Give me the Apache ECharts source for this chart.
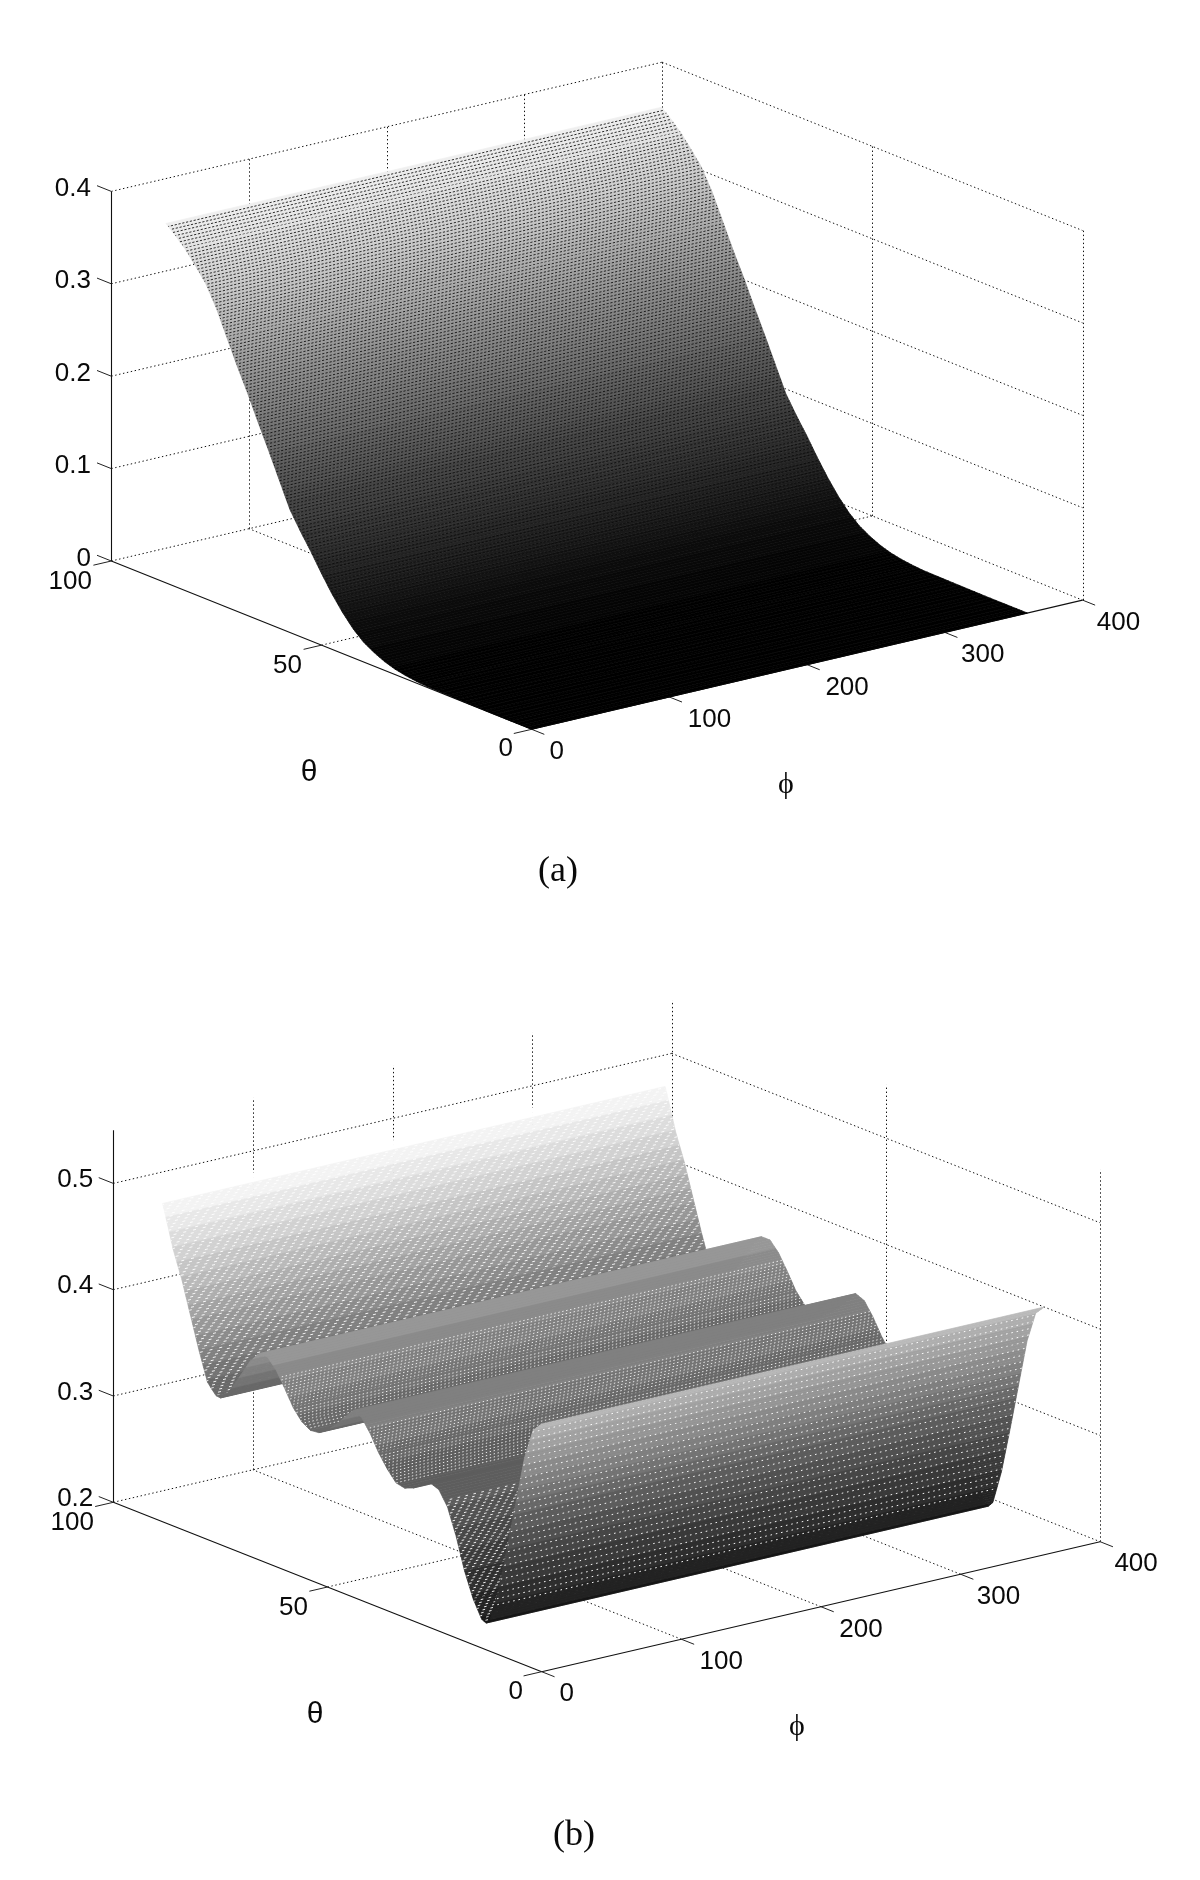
<!DOCTYPE html>
<html>
<head>
<meta charset="utf-8">
<script src="https://cdn.jsdelivr.net/npm/echarts@6/dist/echarts.min.js"></script>
<style>html,body{margin:0;padding:0;background:#fff}#c{width:1200px;height:1880px}</style>
</head>
<body>
<div id="c"></div>
<script>
// ---- values ----
const thetaA = [0,5,10,15,20,25,27.5,30,32.5,35,37.5,40,42.5,45,47.5,50,52.5,55,57.5,60,62.5,65,67.5,70,72.5,75,77.5,80,82.5,85,87];
const surfaceA = [0,0,0,0.0003,0.0006,0.001,0.002,0.0035,0.0058,0.0095,0.0148,0.0215,0.0315,0.0445,0.06,0.0775,0.0965,0.114,0.133,0.16,0.187,0.213,0.24,0.265,0.292,0.319,0.341,0.356,0.37,0.381,0.389];
const thetaB = [0,2,4,6,8,10,12,13,14,16,18,20,22,24,26,28,30,32,34,36,38,40,42,44,46,48,50,52,54,56,58,60,62,64,66,68,70,72,74,75,76,77,78,80,82,84,86,88,89];
const surfaceB = [0.433,0.424,0.395,0.35,0.305,0.262,0.23,0.225,0.227,0.243,0.266,0.296,0.32,0.333,0.336,0.332,0.325,0.3217,0.3235,0.333,0.345,0.36,0.372,0.3755,0.366,0.356,0.348,0.342,0.341,0.346,0.356,0.371,0.385,0.394,0.394,0.384,0.369,0.354,0.341,0.338,0.3385,0.343,0.348,0.375,0.405,0.435,0.46,0.492,0.507];
const phiRange = [0,360];
const thetaTicks = [100,50,0];
const phiTicks = [0,100,200,300,400];
const zTicksA = [0,0.1,0.2,0.3,0.4];
const zTicksB = [0.2,0.3,0.4,0.5];
const zLabelsA = ['0','0.1','0.2','0.3','0.4'];
const zLabelsB = ['0.2','0.3','0.4','0.5'];

// ---- layout ----
const SANS = '26px "Liberation Sans", Arial, sans-serif';
const thetaLabelOffset = {100:[-41,20.5],50:[-34,20.5],0:[-26,20]};
const phiLabelOffset = {0:[25,22.5],100:[40,22.5],200:[40,23],300:[38,22.5],400:[36,22.5]};
const panels = [
 {theta:thetaA, z:surfaceA, zTicks:zTicksA, zLabels:zLabelsA, origin:[531.7,729.3], tv:[-4.204,-1.683], pv:[1.377,-0.323], zs:924, zBase:0, zTop:0.4,
  gray:z=>240*Math.pow(z/0.389,1.2), levels:64, zLabelOff:[-20.3,-2.5],
  names:{theta:[309,773],phi:[786,785],cap:[558,872],capText:'(a)'},
  zones:[{from:87,to:0,gap:3,dash:[2.2,1.7],shift:1.3,color:'rgba(10,10,10,0.85)'}]},
 {theta:thetaB, z:surfaceB, zTicks:zTicksB, zLabels:zLabelsB, origin:[541.7,1671.7], tv:[-4.284,-1.694], pv:[1.396,-0.325], zs:1063, zBase:0.2, zTop:0.55,
  gray:z=>z<0.34?10+90*(z-0.2)/0.14:100+150*(z-0.34)/0.16, levels:22, zLabelOff:[-20,-3.5],
  names:{theta:[315,1715],phi:[797,1727],cap:[574,1836],capText:'(b)'},
  zones:[
   {from:89,to:75.5,gap:2.4,dash:[3,7],shift:2.9,color:'rgba(255,255,255,0.9)'},
   {from:61.5,to:54,gap:2.6,dash:[1.4,2.6],shift:1.7,color:'rgba(255,255,255,0.85)'},
   {from:41,to:33,gap:2.6,dash:[1.4,2.6],shift:1.7,color:'rgba(255,255,255,0.85)'},
   {from:23,to:13.5,gap:2.4,dash:[2.6,5.5],shift:2.6,color:'rgba(255,255,255,0.9)'},
   {from:11.5,to:1.5,gap:6.4,dash:[1.6,3.8],shift:2.2,color:'rgba(255,255,255,0.95)'}
  ]}
];

function project(p, th, ph, z){
  return [p.origin[0]+th*p.tv[0]+ph*p.pv[0], p.origin[1]+th*p.tv[1]+ph*p.pv[1]-(z-p.zBase)*p.zs];
}
function profileAt(p, th){
  const t=p.theta, v=p.z;
  for(let i=0;i<t.length-1;i++){ if(th>=t[i]&&th<=t[i+1]) return v[i]+(v[i+1]-v[i])*(th-t[i])/(t[i+1]-t[i]); }
  return th<t[0]?v[0]:v[v.length-1];
}
function grayOf(p, z){
  let g=p.gray(z);
  g=Math.round(g*p.levels/255)*255/p.levels;
  g=Math.max(0,Math.min(255,Math.round(g)));
  return 'rgb('+g+','+g+','+g+')';
}
// Lattice rows of the plotted mesh: constant screen spacing along the profile.
function buildRows(p){
  const rows=[];
  p.zones.forEach(zn=>{
    let acc=0,idx=0,prev=null;
    for(let th=zn.from;th>=zn.to;th-=0.02){
      const y=project(p,th,0,profileAt(p,th))[1];
      if(prev!==null) acc+=Math.abs(y-prev);
      prev=y;
      if(acc>=zn.gap){acc=0;idx++;rows.push({th:th,z:profileAt(p,th),zn:zn,idx:idx});}
    }
  });
  return rows;
}
panels.forEach(p=>{p.rows=buildRows(p);});

function frameLines(p){
  const L=[], zb=p.zBase, zt=p.zTop;
  p.zTicks.forEach(z=>{ L.push({a:[100,0,z],b:[100,400,z],k:'g'}); L.push({a:[100,400,z],b:[0,400,z],k:'g'}); });
  [100,200,300,400].forEach(ph=>L.push({a:[100,ph,zb],b:[100,ph,zt],k:'g'}));
  [50,0].forEach(th=>L.push({a:[th,400,zb],b:[th,400,zt],k:'g'}));
  [100,200,300].forEach(ph=>L.push({a:[0,ph,zb],b:[100,ph,zb],k:'g'}));
  L.push({a:[50,0,zb],b:[50,400,zb],k:'g'});
  L.push({a:[100,0,zb],b:[100,0,zt],k:'s'});
  L.push({a:[100,0,zb],b:[0,0,zb],k:'s'});
  L.push({a:[0,0,zb],b:[0,400,zb],k:'s'});
  p.zTicks.forEach(z=>L.push({a:[100,0,z],b:[103.4,0,z],k:'t'}));
  thetaTicks.forEach(th=>L.push({a:[th,0,zb],b:[th,-13,zb],k:'t'}));
  phiTicks.forEach(ph=>L.push({a:[0,ph,zb],b:[-3,ph,zb],k:'t'}));
  return L;
}
function frameSeries(p){
  const lines=frameLines(p);
  return {type:'custom',coordinateSystem:'cartesian2d',silent:true,clip:false,animation:false,z:1,
    data:lines.map((l,i)=>[i,0]),
    renderItem:(params,api)=>{
      const l=lines[api.value(0)];
      const A=api.coord(project(p,l.a[0],l.a[1],l.a[2])), B=api.coord(project(p,l.b[0],l.b[1],l.b[2]));
      if(Math.abs(A[0]-B[0])<0.01){A[0]=B[0]=Math.round(A[0])+0.5;}
      const st=l.k==='g'?{stroke:'#111',lineWidth:1,lineDash:[1.4,2.6]}
        :l.k==='s'?{stroke:'#111',lineWidth:1.1}:{stroke:'#222',lineWidth:1};
      return {type:'line',shape:{x1:A[0],y1:A[1],x2:B[0],y2:B[1]},style:st};
    }};
}
function surfaceSeries(p){
  const segs=[];
  for(let i=p.theta.length-1;i>0;i--) segs.push([p.theta[i],p.z[i],p.theta[i-1],p.z[i-1]]);
  return {type:'custom',coordinateSystem:'cartesian2d',silent:true,clip:false,animation:false,z:2,progressive:0,
    data:segs,
    renderItem:(params,api)=>{
      const th1=api.value(0),z1=api.value(1),th0=api.value(2),z0=api.value(3);
      const ch=[];
      const h=Math.abs(project(p,th1,0,z1)[1]-project(p,th0,0,z0)[1]);
      const K=Math.max(1,Math.ceil(h/2.5));
      for(let k=0;k<K;k++){
        const f=k/K,g=(k+1)/K;
        const ta=th1+(th0-th1)*f,za=z1+(z0-z1)*f,tb=th1+(th0-th1)*g,zb=z1+(z0-z1)*g;
        const col=grayOf(p,(za+zb)/2);
        const pts=[project(p,ta,phiRange[0],za),project(p,ta,phiRange[1],za),project(p,tb,phiRange[1],zb),project(p,tb,phiRange[0],zb)].map(q=>api.coord(q));
        ch.push({type:'polygon',shape:{points:pts},style:{fill:col,stroke:col,lineWidth:0.7}});
      }
      p.rows.forEach(r=>{
        if(r.th<=th1&&r.th>th0){
          const A=api.coord(project(p,r.th,phiRange[0],r.z)),B=api.coord(project(p,r.th,phiRange[1],r.z));
          ch.push({type:'line',shape:{x1:A[0],y1:A[1],x2:B[0],y2:B[1]},
            style:{stroke:r.zn.color,lineWidth:1,lineDash:r.zn.dash,lineDashOffset:r.idx*r.zn.shift}});
        }
      });
      return {type:'group',children:ch};
    }};
}
function labelSeries(p){
  const T=[];
  p.zTicks.forEach((z,i)=>{const q=project(p,100,0,z);T.push({t:p.zLabels[i],x:q[0]+p.zLabelOff[0],y:q[1]+p.zLabelOff[1],al:'right',f:SANS});});
  thetaTicks.forEach(th=>{const q=project(p,th,0,p.zBase),o=thetaLabelOffset[th];T.push({t:String(th),x:q[0]+o[0],y:q[1]+o[1],al:'center',f:SANS});});
  phiTicks.forEach(ph=>{const q=project(p,0,ph,p.zBase),o=phiLabelOffset[ph];T.push({t:String(ph),x:q[0]+o[0],y:q[1]+o[1],al:'center',f:SANS});});
  T.push({t:'\u03B8',x:p.names.theta[0],y:p.names.theta[1],al:'center',f:'30px "Liberation Sans", sans-serif'});
  T.push({t:'\u03D5',x:p.names.phi[0],y:p.names.phi[1],al:'center',f:'30px "Liberation Serif", "DejaVu Serif", serif'});
  T.push({t:p.names.capText,x:p.names.cap[0],y:p.names.cap[1],al:'center',f:'36px "Liberation Serif", "Times New Roman", serif'});
  return {type:'custom',coordinateSystem:'cartesian2d',silent:true,clip:false,animation:false,z:3,
    data:T.map((d,i)=>[i,0]),
    renderItem:(params,api)=>{
      const d=T[api.value(0)],c=api.coord([d.x,d.y]);
      return {type:'text',style:{text:d.t,x:c[0],y:c[1],fill:'#0a0a0a',font:d.f,textAlign:d.al,textVerticalAlign:'middle'}};
    }};
}
const chart=echarts.init(document.getElementById('c'),null,{renderer:'canvas'});
chart.setOption({
  animation:false,backgroundColor:'#fff',
  grid:{left:0,right:0,top:0,bottom:0},
  xAxis:{type:'value',min:0,max:1200,show:false},
  yAxis:{type:'value',min:0,max:1880,inverse:true,show:false},
  series:[].concat(...panels.map(p=>[frameSeries(p),surfaceSeries(p),labelSeries(p)]))
});
</script>
</body>
</html>
